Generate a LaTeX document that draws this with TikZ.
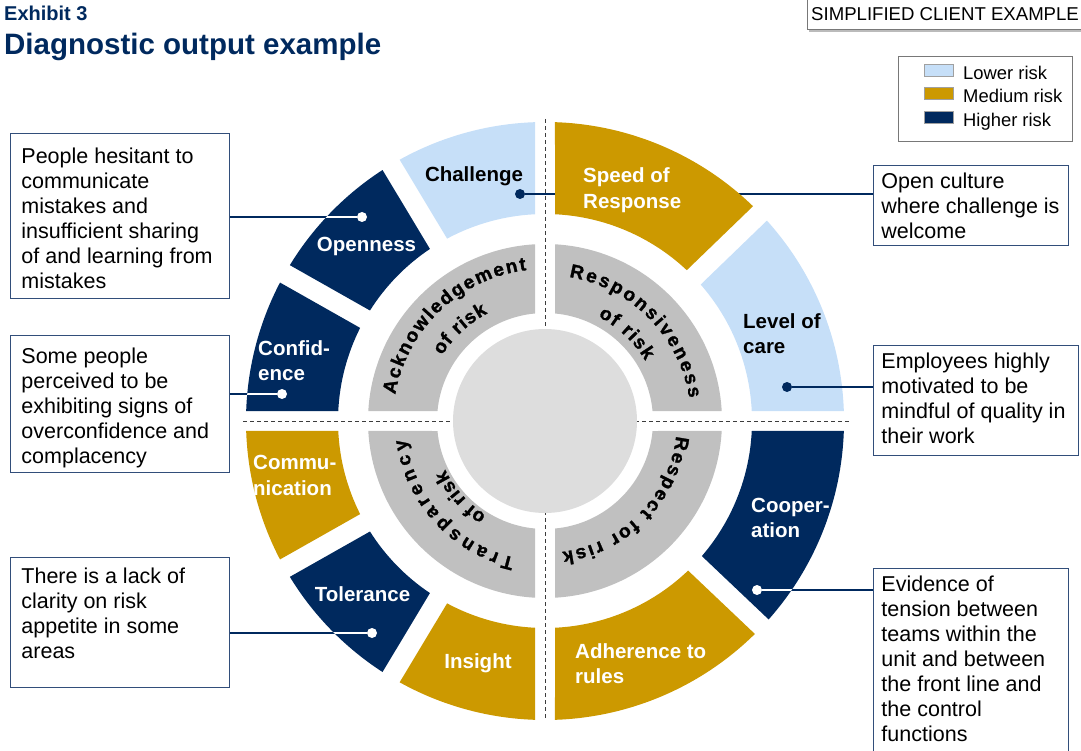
\documentclass[tikz,border=0pt]{standalone}
\usepackage{fontspec}
\setmainfont{Liberation Sans}
\newfontface\heavyface[FakeBold=1.3]{Liberation Sans Bold}
\usetikzlibrary{decorations.text}

\definecolor{navy}{RGB}{0,41,94}
\definecolor{gold}{RGB}{204,153,0}
\definecolor{paleblue}{RGB}{198,223,248}
\definecolor{ringgray}{RGB}{192,192,192}
\definecolor{hubgray}{RGB}{221,221,221}
\definecolor{framegray}{RGB}{120,120,120}
\definecolor{boxblue}{RGB}{50,78,122}
\definecolor{axisgray}{RGB}{60,60,60}

\pgfdeclarelayer{back}
\pgfdeclarelayer{links}
\pgfsetlayers{back,links,main}

% annular sector from angle #1 to #2 (counter-clockwise), radii #3..#4,
% with straight edges set back 10pt from the radial dividing lines
\newcommand\sector[4]{({#1+asin(10/#3)}:#3) -- ({#1+asin(10/#4)}:#4)
  arc[start angle={#1+asin(10/#4)}, end angle={#2-asin(10/#4)}, radius=#4]
  -- ({#2-asin(10/#3)}:#3)
  arc[start angle={#2-asin(10/#3)}, end angle={#1+asin(10/#3)}, radius=#3] -- cycle}

\newcommand\ringfont{\fontsize{19}{19}\selectfont\heavyface}

\begin{document}
\begin{tikzpicture}[x=1pt, y=-1pt,
  ring/.style={shift={(545,421)}, y=1pt},
  seglabel/.style={font=\fontsize{20.5}{25.5}\selectfont\bfseries, inner sep=0pt, align=left, anchor=base west},
  midlabel/.style={seglabel, align=center, anchor=base},
  dot/.style={circle, inner sep=0pt, minimum size=10pt},
  link/.style={draw=navy, line width=1.3pt},
  inlink/.style={draw=white, line width=1.3pt},
  note/.style={draw=boxblue, line width=0.9pt, anchor=north west, inner ysep=0pt, font=\fontsize{21.5}{25}\selectfont},
  axis/.style={draw=axisgray, line width=0.9pt, dash pattern=on 4pt off 3pt},
  arctext/.style={decorate, decoration={text along path, text align={fit to path}, text={|\ringfont|#1}}},
  swatch/.style={draw=framegray!70, line width=0.6pt, minimum width=29pt, minimum height=12pt, inner sep=0pt},
  legtext/.style={font=\fontsize{18.4}{20}\selectfont, anchor=base west, inner sep=0pt}
]
\useasboundingbox (0,0) rectangle (1081,751);

% ---------- heading ----------
\node[anchor=base west, inner sep=0pt, text=navy, font=\fontsize{20}{22}\selectfont\bfseries] (exhibit) at (4,21) {Exhibit 3};
\node[anchor=base west, inner sep=0pt, text=navy, font=\fontsize{29.5}{32}\selectfont\bfseries] (title) at (4,55) {Diagnostic output example};

\node[anchor=base west, inner sep=0pt, font=\fontsize{18.6}{20}\selectfont] (tag) at (811,21) {SIMPLIFIED CLIENT EXAMPLE};
\draw[framegray!50, line width=2pt] (809,31.5) -- (1081,31.5);
\draw[framegray, line width=0.8pt] (807,0) |- (1081,29.5);

% ---------- legend ----------
\node[draw=framegray, line width=0.8pt, anchor=north west, minimum width=174pt, minimum height=85pt, inner sep=0pt] (legend) at (898,56) {};
\node[swatch, fill=paleblue] (lowsw) at (938.5,70.5) {};
\node[swatch, fill=gold] (medsw) at (938.5,93.5) {};
\node[swatch, fill=navy] (highsw) at (938.5,117.5) {};
\node[legtext] (lowtx) at (963,80) {Lower risk};
\node[legtext] (medtx) at (963,103) {Medium risk};
\node[legtext] (hightx) at (963,126.5) {Higher risk};

% ---------- wheel ----------
\begin{pgfonlayer}{back}
\begin{scope}[ring]
  \fill[paleblue] \sector{0}{44}{207}{299};        % Level of care
  \fill[paleblue] \sector{90}{121}{207}{299};      % Challenge
  \fill[navy]     \sector{121}{150.5}{207}{299};   % Openness
  \fill[navy]     \sector{150.5}{180}{207}{299};   % Confidence
  \fill[gold]     \sector{180}{209.5}{207}{299};   % Communication
  \fill[navy]     \sector{209.5}{239}{207}{299};   % Tolerance
  \fill[gold]     \sector{239}{270}{207}{299};     % Insight
  \fill[gold]     \sector{270}{316.5}{207}{299};   % Adherence to rules
  \fill[navy]     \sector{316.5}{360}{207}{299};   % Cooperation
  \foreach \a in {0,90,180,270}
    \fill[ringgray] \sector{\a}{\a+90}{108}{177};
  \draw[axis] (0,302) -- (0,-299);
  \draw[axis] (-302,0) -- (305,0);
  \fill[hubgray] (0,0) circle[radius=92];
  % curved titles of the inner ring
  \path[arctext=Acknowledgement] (170:152) arc[start angle=170, end angle=97, radius=152];
  \path[arctext=of risk] (147.5:122) arc[start angle=147.5, end angle=118, radius=122];
  \path[arctext=Responsiveness] (80.5:146) arc[start angle=80.5, end angle=9, radius=146];
  \path[arctext=of risk] (63:117) arc[start angle=63, end angle=31, radius=117];
  \path[arctext=Respect for risk] (-6.5:132) arc[start angle=-6.5, end angle=-82.5, radius=132];
  \path[arctext=Transparency] (257.5:140) arc[start angle=257.5, end angle=187.5, radius=140];
  \path[arctext=of risk] (238:111) arc[start angle=238, end angle=206, radius=111];
\end{scope}
\end{pgfonlayer}

% Speed of Response lies over the Challenge connector
\begin{scope}[ring]
  \fill[gold] \sector{44}{90}{207}{299};
\end{scope}

% ---------- segment labels (base = baseline of the last line) ----------
\node[midlabel] (chlabel) at (474,182) {Challenge};
\node[midlabel, text=white] (oplabel) at (366.5,252) {Openness};
\node[seglabel, text=white] (cflabel) at (258,380.5) {Confid-\\ence};
\node[seglabel, text=white] (cmlabel) at (253,495) {Commu-\\nication};
\node[midlabel, text=white] (tolabel) at (362.5,601) {Tolerance};
\node[midlabel, text=white] (inlabel) at (478,668) {Insight};
\node[seglabel, text=white] (splabel) at (583,208.5) {Speed of\\Response};
\node[seglabel] (lclabel) at (743,353.5) {Level of\\care};
\node[seglabel, text=white] (cplabel) at (751,537.5) {Cooper-\\ation};
\node[seglabel, text=white] (adlabel) at (575,683.5) {Adherence to\\rules};

% ---------- markers ----------
\node[dot, fill=navy] (chdot) at (520,194) {};
\node[dot, fill=white] (opdot) at (362,217) {};
\node[dot, fill=white] (cfdot) at (282,394) {};
\node[dot, fill=white] (todot) at (372,633) {};
\node[dot, fill=navy] (lcdot) at (787,387) {};
\node[dot, fill=white] (cpdot) at (757,590) {};

% ---------- comment boxes ----------
\node[note, inner xsep=11pt] (b1) at (10,133) {\parbox[t][165pt][t]{197pt}{\rule{0pt}{30pt}People hesitant to\\communicate\\mistakes and\\insufficient sharing\\of and learning from\\mistakes}};
\node[note, inner xsep=11pt] (b2) at (10,335) {\parbox[t][137pt][t]{197pt}{\rule{0pt}{28pt}Some people\\perceived to be\\exhibiting signs of\\overconfidence and\\complacency}};
\node[note, inner xsep=11pt] (b3) at (10,557) {\parbox[t][130pt][t]{197pt}{\rule{0pt}{26pt}There is a lack of\\clarity on risk\\appetite in some\\areas}};
\node[note, inner xsep=8pt] (b4) at (873,165) {\parbox[t][80pt][t]{179pt}{\rule{0pt}{23pt}Open culture\\where challenge is\\welcome}};
\node[note, inner xsep=8pt] (b5) at (873,345) {\parbox[t][110pt][t]{189pt}{\rule{0pt}{23pt}Employees highly\\motivated to be\\mindful of quality in\\their work}};
\node[note, inner xsep=8pt] (b6) at (873,568) {\parbox[t][200pt][t]{179pt}{\rule{0pt}{23pt}Evidence of\\tension between\\teams within the\\unit and between\\the front line and\\the control\\functions}};

% ---------- connectors ----------
\begin{pgfonlayer}{links}
  \draw[link] (chdot) -- (chdot -| b4.west);
  \draw[link] (lcdot) -- (lcdot -| b5.west);
  \draw[link] (cpdot) -- (cpdot -| b6.west);
  \draw[link] (opdot) -- (opdot -| b1.east);
  \draw[link] (cfdot) -- (cfdot -| b2.east);
  \draw[link] (todot) -- (todot -| b3.east);
  % inside dark segments the connectors turn white
  \begin{scope}[ring]
    \clip \sector{121}{150.5}{207}{299};
    \draw[inlink] (opdot) -- (opdot -| b1.east);
  \end{scope}
  \begin{scope}[ring]
    \clip \sector{150.5}{180}{207}{299};
    \draw[inlink] (cfdot) -- (cfdot -| b2.east);
  \end{scope}
  \begin{scope}[ring]
    \clip \sector{209.5}{239}{207}{299};
    \draw[inlink] (todot) -- (todot -| b3.east);
  \end{scope}
  \begin{scope}[ring]
    \clip \sector{316.5}{360}{207}{299};
    \draw[inlink] (cpdot) -- (cpdot -| b6.west);
  \end{scope}
\end{pgfonlayer}
\end{tikzpicture}
\end{document}
